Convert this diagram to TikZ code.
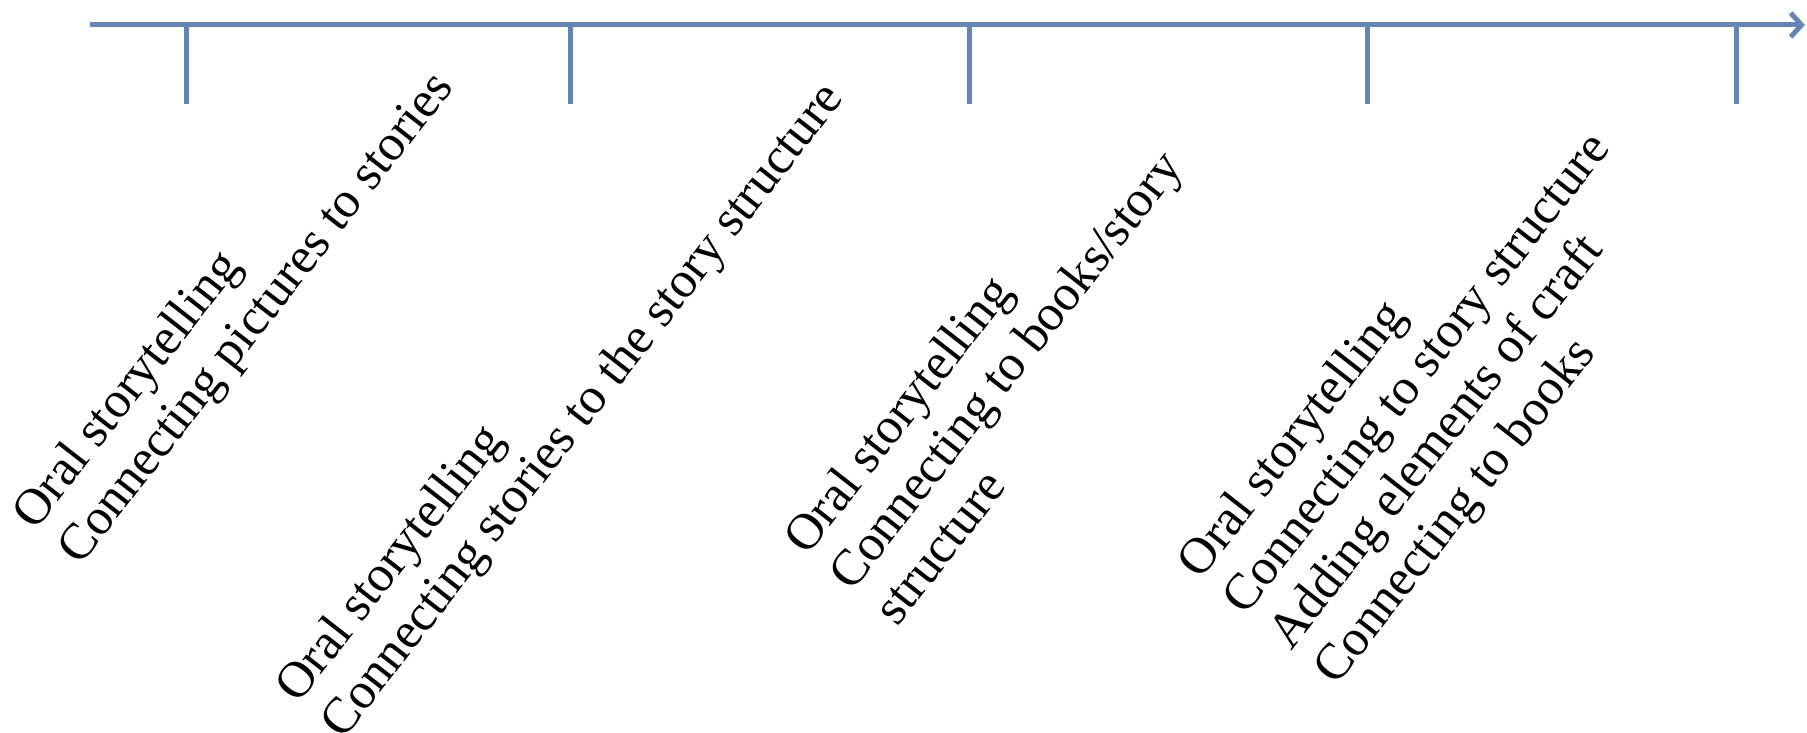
\documentclass[tikz,border=0pt]{standalone}
\usepackage{fontspec}
\setmainfont{Liberation Serif}
\usetikzlibrary{arrows.meta,calc}
\definecolor{axisblue}{RGB}{101,133,181}
\begin{document}
\begin{tikzpicture}[x=1pt,y=1pt,
  axisline/.style={draw=axisblue,line width=5pt},
  lbl/.style={rotate=52,anchor=base west,align=left,inner sep=0pt,
    font=\fontsize{51}{57.5}\selectfont}]
\useasboundingbox (0,0) rectangle (1807,733);
\coordinate (start) at (90,708);
\coordinate (end) at (1805,708);
\draw[axisline,-{Straight Barb[length=11pt,width=24pt]}] (start) -- (end);
\foreach \i/\x in {1/186,2/570,3/969,4/1367,5/1736}{
  \coordinate (t\i) at (\x,708);
  \coordinate (b\i) at (\x,629);
  \draw[axisline] (t\i) -- (b\i);
}
% first-line baseline starts
\coordinate (s1) at (34.9,201.7);
\coordinate (s2) at (297.9,28.2);
\coordinate (s3) at (806.9,176.2);
\coordinate (s4) at (1200.4,152.2);
% node base is the last line's baseline: shift down by (lines-1)
\node[lbl] (g1) at ($(s1)+(-38:57.5)$) {Oral storytelling\\Connecting pictures to stories};
\node[lbl] (g2) at ($(s2)+(-38:57.5)$) {Oral storytelling\\Connecting stories to the story structure};
\node[lbl] (g3) at ($(s3)+(-38:115)$) {Oral storytelling\\Connecting to books/story\\structure};
\node[lbl] (g4) at ($(s4)+(-38:172.5)$) {Oral storytelling\\Connecting to story structure\\Adding elements of craft\\Connecting to books};
\end{tikzpicture}
\end{document}
